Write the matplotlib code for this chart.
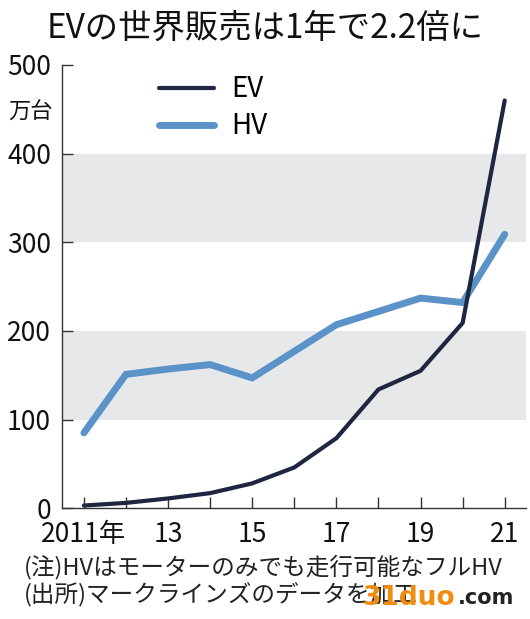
import matplotlib
matplotlib.use("Agg")
import matplotlib.pyplot as plt

plt.rcParams['font.family'] = ['Noto Sans CJK JP', 'DejaVu Sans']

# データ（万台）
years = [2011, 2012, 2013, 2014, 2015, 2016, 2017, 2018, 2019, 2020, 2021]
ev = [3, 6, 11, 17, 28, 46, 79, 134, 155, 209, 460]
hv = [85, 151, 157, 162, 147, 177, 207, 222, 237, 232, 309]
tick_years = [2011, 2013, 2015, 2017, 2019, 2021]
tick_labels = ['2011年', '13', '15', '17', '19', '21']
y_ticks = [0, 100, 200, 300, 400, 500]
bands = [(100, 200), (300, 400)]

ev_color = '#1e2642'
hv_color = '#5b93c9'
band_color = '#e6e8e9'

fig = plt.figure(figsize=(5.30, 6.19), dpi=100)
ax = fig.add_axes([0.117, 0.179, 0.875, 0.716])

# 背景の帯
for lo, hi in bands:
    ax.axhspan(lo, hi, color=band_color, zorder=0, lw=0)

ax.plot(years, hv, color=hv_color, lw=5, solid_capstyle='round',
        solid_joinstyle='miter', label='HV', clip_on=False, zorder=3)
ax.plot(years, ev, color=ev_color, lw=3, solid_capstyle='round',
        solid_joinstyle='miter', label='EV', clip_on=False, zorder=4)

ax.set_xlim(2010.48, 2021.5)
ax.set_ylim(0, 500)
ax.set_xticks(years)
ax.set_xticklabels([tick_labels[tick_years.index(y)] if y in tick_years else '' for y in years])
ax.set_yticks(y_ticks)
ax.set_yticklabels([str(v) for v in y_ticks])

for s in ['top', 'right']:
    ax.spines[s].set_visible(False)
for s in ['left', 'bottom']:
    ax.spines[s].set_color('#333333')
    ax.spines[s].set_linewidth(1.0)
ax.tick_params(axis='both', direction='in', length=8, width=1.0, color='#333333',
               labelcolor='#111111')
ax.tick_params(axis='y', pad=8, labelsize=19)
ax.tick_params(axis='x', pad=9, labelsize=19)

# 凡例
handles, labels = ax.get_legend_handles_labels()
leg = ax.legend(handles[::-1], labels[::-1], loc='upper left',
                bbox_to_anchor=(0.155, 1.035), frameon=False, fontsize=20,
                handlelength=2.0, labelspacing=0.25, handletextpad=0.6)

fig.text(0.057, 0.819, '万台', fontsize=16, ha='center', va='center', color='#111111')

fig.text(0.5, 0.955, 'EVの世界販売は1年で2.2倍に', fontsize=24, ha='center',
         va='center', color='#111111')

fig.text(0.045, 0.084, '(注)HVはモーターのみでも走行可能なフルHV', fontsize=17,
         ha='left', va='center', color='#222222')
fig.text(0.045, 0.038, '(出所)マークラインズのデータを加工', fontsize=17,
         ha='left', va='center', color='#222222')

# 透かし
fig.text(0.684, 0.034, '31duo', fontsize=19, ha='left', va='center',
         color='#f28c0f', fontweight='bold', family='DejaVu Sans')
fig.text(0.864, 0.034, '.com', fontsize=15, ha='left', va='center',
         color='#222222', fontweight='bold', family='DejaVu Sans')

fig.savefig('out.png', dpi=100)
